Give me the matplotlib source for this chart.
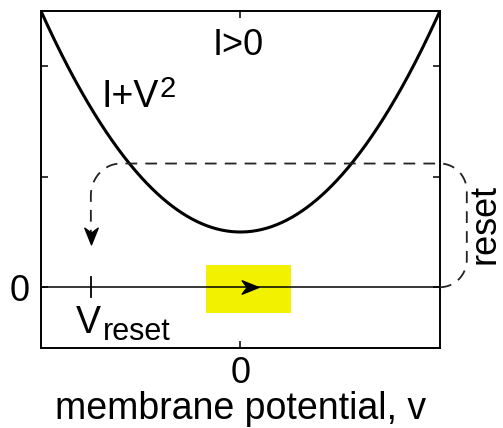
import numpy as np
import matplotlib
matplotlib.use("Agg")
import matplotlib.pyplot as plt
from matplotlib.path import Path

plt.rcParams["font.family"] = ["Liberation Sans", "DejaVu Sans"]

# quadratic integrate-and-fire: dv/dt = I + v^2
I_input = 0.5
v_range = [-2.0, 2.0]
y_range = [-0.55, 2.5]
v_reset = -1.5
v_peak_level = 1.12      # height of the reset jump drawn above the curve
v_loop = 2.27            # how far the reset loop swings past the axes
arrow_tip_y = 0.36
y_ticks = [0, 1, 2]
y_tick_labels = ["0", "", ""]
x_ticks = [0]
x_tick_labels = ["0"]
box_v = [-0.35, 0.51]
box_y = [-0.23, 0.2]

v = np.linspace(v_range[0], v_range[1], 400)
dv = I_input * 1.0 + 0.5 * v ** 2

fig = plt.figure(figsize=(5.03, 4.28), dpi=100)
ax = fig.add_axes([0.0815, 0.187, 0.793, 0.787])

# highlighted region around the flow arrow
ax.fill_between(box_v, box_y[0], box_y[1], color="#f2f200", lw=0, zorder=1)

ax.plot(v, dv, color="black", lw=2.2, zorder=3)
ax.axhline(0, color="black", lw=1.1, zorder=2)

# flow direction along v axis
right_head = Path([(1, 0), (-1, 0.8), (-0.4, 0), (-1, -0.8), (1, 0)],
                  [Path.MOVETO, Path.LINETO, Path.LINETO, Path.LINETO, Path.CLOSEPOLY])
down_head = Path([(0, -1), (0.8, 1), (0, 0.4), (-0.8, 1), (0, -1)],
                 [Path.MOVETO, Path.LINETO, Path.LINETO, Path.LINETO, Path.CLOSEPOLY])
ax.plot([0.1], [0], marker=right_head, ms=12, color="black", zorder=4)


def arc(cx, cy, rx, ry, t0, t1):
    t = np.linspace(t0, t1, 30)
    return cx + rx * np.cos(t), cy + ry * np.sin(t)


# reset loop: from the right edge up, across the top, down to v_reset
rx, ry = 0.27, 0.25
lx, ly = 0.3, 0.29
segs_x, segs_y = [], []
segs_x += [v_range[1], v_loop - rx]
segs_y += [0, 0]
ax_, ay_ = arc(v_loop - rx, ry, rx, ry, -np.pi / 2, 0)
segs_x += list(ax_); segs_y += list(ay_)
ax_, ay_ = arc(v_loop - rx, v_peak_level - ry, rx, ry, 0, np.pi / 2)
segs_x += list(ax_); segs_y += list(ay_)
ax_, ay_ = arc(v_reset + lx, v_peak_level - ly, lx, ly, np.pi / 2, np.pi)
segs_x += list(ax_); segs_y += list(ay_)
segs_x += [v_reset]
segs_y += [arrow_tip_y + 0.12]
ax.plot(segs_x, segs_y, color="#222222", lw=1.3, dashes=(6.5, 4.5),
        clip_on=False, zorder=3)
ax.plot([v_reset], [arrow_tip_y + 0.1], marker=down_head, ms=12,
        color="black", zorder=4)

# small mark for v_reset on the axis
ax.plot([v_reset, v_reset], [-0.09, 0.09], color="black", lw=1.3, zorder=3)

ax.text(-0.02, 2.10, "I>0", fontsize=26, ha="center", va="baseline")
ax.text(-1.39, 1.63, "I+V", fontsize=27, ha="left", va="baseline")
ax.text(-0.81, 1.72, "2", fontsize=21, ha="left", va="baseline")
ax.text(-1.65, -0.41, "V", fontsize=27, ha="left", va="baseline")
ax.text(-1.38, -0.475, "reset", fontsize=22, ha="left", va="baseline")
ax.text(2.45, 0.57, "reset", fontsize=26, rotation=90, ha="center",
        va="center", clip_on=False)

ax.set_xlim(v_range)
ax.set_ylim(y_range)
ax.set_xticks(x_ticks)
ax.set_xticklabels(x_tick_labels)
ax.set_yticks(y_ticks)
ax.set_yticklabels(y_tick_labels)
ax.tick_params(direction="in", top=True, right=True, length=5, width=1.1,
               labelsize=26)
ax.tick_params(axis="x", pad=6)
ax.tick_params(axis="y", pad=8)
for s in ax.spines.values():
    s.set_linewidth(1.4)

ax.set_xlabel("membrane potential, v", fontsize=27, labelpad=0)

fig.savefig("out.png", dpi=100)
